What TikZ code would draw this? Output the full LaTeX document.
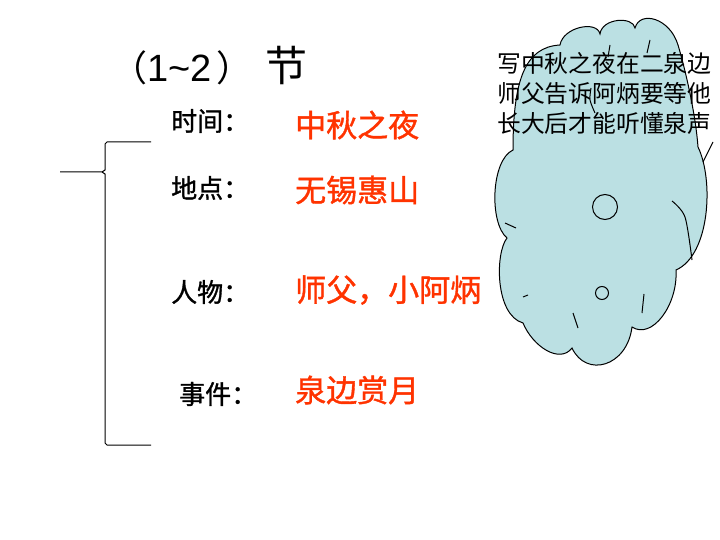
\documentclass[tikz,border=0pt]{standalone}
\usepackage{fontspec}
\newfontfamily\cjk{Noto Sans CJK SC}
\newfontfamily\cjkheavy{Noto Sans CJK SC}[FakeBold=1.2]
\newfontfamily\arialish{Liberation Sans}
\usepackage{tikz}
\usetikzlibrary{positioning}
\definecolor{answerred}{RGB}{255,51,0}
\definecolor{cloudblue}{RGB}{187,224,227}

\begin{document}
\begin{tikzpicture}
	[ x=1pt, y=-1pt,
		heading/.style={font=\cjk\fontsize{36}{40}\selectfont,anchor=west,inner sep=0pt},
		item/.style={font=\cjkheavy\fontsize{26}{30}\selectfont,anchor=west,inner sep=0pt},
		answer/.style={font=\cjkheavy\fontsize{31}{36}\selectfont,text=answerred,anchor=west,inner sep=0pt},
		thought/.style={font=\cjk\fontsize{23.8}{30}\selectfont,align=left,anchor=north west,inner sep=0pt},
		stroke/.style={draw=black,line width=1pt}]

	\useasboundingbox[fill=white] (0,0) rectangle (720,540);

	\path[stroke,fill=cloudblue] (513,150)
		.. controls +(0,-70) and +(-35,2) .. (560,45)
		.. controls +(3,-18) and +(-3,-14) .. (600,34)
		.. controls +(2,-16) and +(-2,-12) .. (635,28)
		.. controls +(5,-18) and +(-8,-27) .. (678,45)
		.. controls +(4,13) and +(-3,-40) .. (698,147)
		.. controls +(16,33) and +(34,-15) .. (676,270)
		.. controls +(2,35) and +(20,13) .. (632,327)
		.. controls +(-5,40) and +(14,30) .. (572,348)
		.. controls +(-12,16) and +(10,24) .. (523,323)
		.. controls +(-28,-8) and +(-12,15) .. (507,238)
		.. controls +(-18,-15) and +(-22,10) .. (513,150)
		-- cycle;
	\draw[stroke] (713,142) -- (703,162);
	\draw[stroke] (505,223) -- (516,228);
	\draw[stroke] plot[smooth] coordinates {(672,201) (685,217) (692,260)};
	\draw[stroke] (523,297) -- (528,295);
	\draw[stroke] (644,294) -- (642,313);
	\draw[stroke] (573,313) -- (578,328);
	\draw[stroke] (610,45) -- (608,57);
	\draw[stroke] (650,40) -- (647,53);
	\draw[stroke] plot[smooth] coordinates {(591,88) (590,100) (595,113)};
	\draw[stroke] (605,207) circle[radius=12.5pt];
	\draw[stroke] (602,293) circle[radius=6.5pt];

	\node[thought] (story) at (497,52) {写中秋之夜在二泉边\\师父告诉阿炳要等他\\长大后才能听懂泉声};

	\node[heading] (section) at (111,66)
		{（{\arialish\fontsize{38}{40}\selectfont 1\textasciitilde2}\kern5pt）\hspace{13pt}{\fontsize{42}{44}\selectfont 节}};

	\node[item] (time) at (171,121) {时间：};
	\node[item] (place) at (171,188) {地点：};
	\node[item] (people) at (171,292) {人物：};
	\node[item] (event) at (179,394) {事件：};

	\node[answer] (night) at (295,125) {中秋之夜};
	\node[answer] (hill) at (295,190) {无锡惠山};
	\node[answer] (persons) at (295,290) {师父，小阿炳};
	\node[answer] (moon) at (295,390) {泉边赏月};

	\coordinate (bracetop) at (151,142);
	\coordinate (bracebottom) at (151,445);
	\coordinate (bracetip) at (60,172);
	\draw[stroke] (bracetop) -- (107,142) -- (105,144) -- (105,170) -- (102,172) -- (bracetip)
		(102,172) -- (105,174) -- (105,443) -- (107,445) -- (bracebottom);
\end{tikzpicture}
\end{document}
